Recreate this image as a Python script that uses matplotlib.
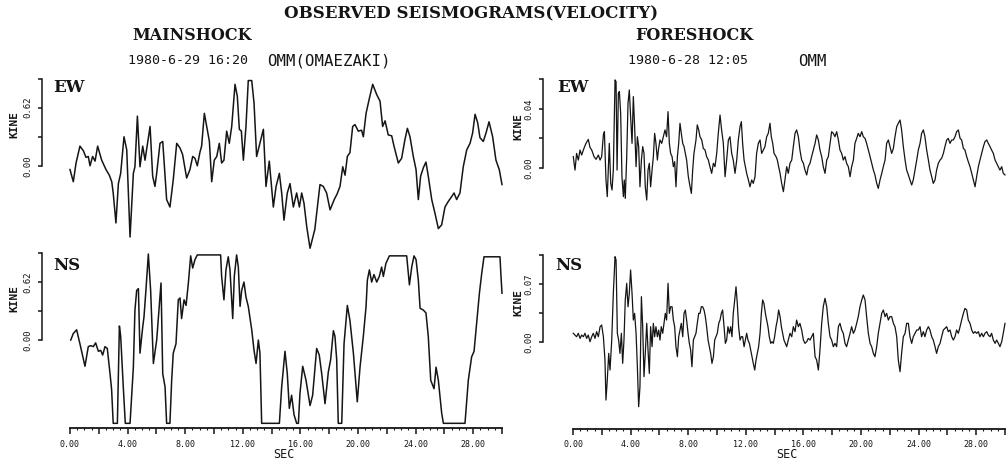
import numpy as np
import matplotlib
matplotlib.use("Agg")
import matplotlib.pyplot as plt

# ---------------- mainshock 1980-6-29 16:20, OMM (Omaezaki) ----------------
main_ew_t = [0.00, 0.23, 0.42, 0.69, 0.93, 1.11, 1.27, 1.39, 1.57, 1.74,
             1.92, 2.20, 2.50, 2.73, 2.90, 3.00, 3.19, 3.36, 3.52, 3.75,
             3.94, 4.17, 4.40, 4.51, 4.68, 4.86, 5.05, 5.21, 5.56, 5.74,
             5.90, 6.02, 6.25, 6.44, 6.71, 6.94, 7.17, 7.41, 7.64, 7.82,
             8.10, 8.33, 8.52, 8.68, 8.84, 9.03, 9.14, 9.33, 9.49, 9.68,
             9.84, 10.02, 10.19, 10.37, 10.53, 10.69, 10.88, 11.06, 11.23, 11.46,
             11.62, 11.76, 11.90, 12.04, 12.22, 12.38, 12.62, 12.78, 12.96, 13.19,
             13.43, 13.61, 13.84, 14.12, 14.31, 14.54, 14.70, 14.86, 15.09, 15.28,
             15.51, 15.74, 15.93, 16.09, 16.25, 16.44, 16.67, 17.00, 17.36, 17.59,
             17.82, 18.06, 18.35, 18.55, 18.75, 18.94, 19.10, 19.26, 19.44, 19.63,
             19.79, 20.02, 20.25, 20.37, 20.56, 20.79, 21.02, 21.30, 21.53, 21.71,
             21.88, 22.10, 22.34, 22.50, 22.80, 23.03, 23.26, 23.43, 23.61, 23.84,
             24.03, 24.19, 24.35, 24.54, 24.72, 24.88, 25.12, 25.35, 25.58, 25.81,
             26.04, 26.27, 26.50, 26.67, 26.85, 27.08, 27.31, 27.55, 27.78, 27.96,
             28.13, 28.31, 28.47, 28.70, 28.89, 29.10, 29.35, 29.58, 29.81, 30.00]
main_ew_v = [-0.04, -0.17, 0.03, 0.21, 0.16, 0.09, 0.10, 0.00, 0.10, 0.05,
             0.21, 0.06, -0.04, -0.10, -0.17, -0.29, -0.61, -0.19, -0.08, 0.31,
             0.17, -0.76, -0.08, -0.01, 0.53, -0.01, 0.21, 0.06, 0.42, -0.11,
             -0.22, -0.08, 0.24, 0.26, -0.36, -0.44, -0.15, 0.24, 0.19, 0.12,
             -0.13, -0.04, 0.10, 0.08, 0.00, 0.15, 0.21, 0.56, 0.42, 0.26,
             -0.17, 0.06, 0.10, 0.24, 0.03, 0.06, 0.37, 0.24, 0.42, 0.87,
             0.74, 0.39, 0.37, 0.06, 0.42, 0.91, 0.91, 0.67, 0.10, 0.24,
             0.39, -0.22, 0.05, -0.44, -0.22, -0.08, -0.29, -0.58, -0.29, -0.19,
             -0.44, -0.29, -0.44, -0.29, -0.40, -0.65, -0.88, -0.68, -0.20, -0.22,
             -0.29, -0.47, -0.36, -0.30, -0.22, -0.01, -0.10, 0.10, 0.14, 0.42,
             0.44, 0.37, 0.38, 0.31, 0.56, 0.72, 0.87, 0.76, 0.69, 0.42,
             0.48, 0.33, 0.32, 0.21, 0.03, 0.08, 0.28, 0.40, 0.31, 0.10,
             -0.04, -0.36, -0.11, -0.02, 0.04, -0.11, -0.36, -0.51, -0.67, -0.63,
             -0.44, -0.38, -0.33, -0.29, -0.36, -0.29, -0.01, 0.17, 0.24, 0.35,
             0.55, 0.46, 0.30, 0.26, 0.35, 0.47, 0.31, 0.06, -0.04, -0.20]

main_ns_t = [0.05, 0.23, 0.46, 0.69, 1.04, 1.27, 1.44, 1.62, 1.78, 1.97,
             2.13, 2.27, 2.43, 2.59, 2.78, 2.89, 3.00, 3.29, 3.43, 3.52,
             3.70, 3.84, 4.17, 4.28, 4.40, 4.51, 4.63, 4.75, 4.86, 5.05,
             5.14, 5.28, 5.44, 5.60, 5.79, 6.02, 6.20, 6.32, 6.44, 6.60,
             6.71, 6.94, 7.06, 7.17, 7.36, 7.52, 7.64, 7.75, 7.92, 8.06,
             8.22, 8.38, 8.52, 8.68, 8.84, 10.46, 10.53, 10.69, 10.83, 10.99,
             11.11, 11.30, 11.41, 11.57, 11.69, 11.81, 11.92, 12.08, 12.22, 12.38,
             12.62, 12.78, 12.92, 13.08, 13.19, 13.31, 14.54, 14.70, 14.93, 15.09,
             15.23, 15.39, 15.56, 15.74, 15.86, 15.97, 16.16, 16.39, 16.67, 16.85,
             17.13, 17.31, 17.48, 17.71, 17.94, 18.10, 18.29, 18.40, 18.52, 18.63,
             18.87, 19.03, 19.26, 19.44, 19.68, 19.95, 20.14, 20.37, 20.56, 20.65,
             20.79, 20.95, 21.11, 21.30, 21.48, 21.64, 21.76, 21.94, 22.18, 23.38,
             23.57, 23.73, 23.89, 24.03, 24.19, 24.31, 24.54, 24.72, 24.88, 25.05,
             25.28, 25.42, 25.58, 25.81, 25.93, 27.43, 27.66, 27.89, 28.06, 28.24,
             28.43, 28.59, 28.75, 29.86, 29.92, 30.00]
main_ns_v = [0.00, 0.07, 0.11, -0.04, -0.28, -0.07, -0.06, -0.07, -0.03, -0.12,
             -0.11, -0.16, -0.07, -0.09, -0.36, -0.53, -0.89, -0.89, 0.15, 0.04,
             -0.50, -0.89, -0.89, -0.61, -0.29, 0.32, 0.53, 0.55, -0.14, 0.14,
             0.25, 0.55, 0.92, 0.53, -0.25, 0.00, 0.36, 0.61, -0.36, -0.50,
             -0.89, -0.89, -0.43, -0.14, -0.04, 0.43, 0.45, 0.23, 0.43, 0.37,
             0.61, 0.90, 0.77, 0.86, 0.91, 0.91, 0.68, 0.43, 0.75, 0.89,
             0.75, 0.23, 0.68, 0.91, 0.78, 0.36, 0.53, 0.62, 0.46, 0.36,
             0.11, -0.11, -0.25, 0.00, -0.14, -0.89, -0.89, -0.50, -0.12, -0.36,
             -0.73, -0.59, -0.80, -0.89, -0.89, -0.57, -0.28, -0.43, -0.70, -0.59,
             -0.09, -0.16, -0.36, -0.68, -0.34, -0.21, 0.10, 0.04, -0.21, -0.89,
             -0.89, -0.04, 0.37, 0.21, -0.14, -0.66, -0.29, 0.04, 0.36, 0.64,
             0.75, 0.62, 0.70, 0.62, 0.68, 0.78, 0.68, 0.82, 0.90, 0.90,
             0.59, 0.78, 0.90, 0.86, 0.64, 0.34, 0.32, 0.29, 0.04, -0.43,
             -0.52, -0.29, -0.43, -0.78, -0.89, -0.89, -0.43, -0.18, -0.12, 0.18,
             0.50, 0.71, 0.89, 0.89, 0.71, 0.50]

# ---------------- foreshock 1980-6-28 12:05, OMM ----------------
fore_ew_head_t = [0.02, 0.14, 0.25, 0.37, 0.49, 0.60, 0.76, 0.90, 1.06, 1.18,
                  1.30, 1.46, 1.60, 1.76, 1.88, 1.99, 2.11, 2.18, 2.29, 2.38,
                  2.45, 2.52, 2.62, 2.71, 2.80, 2.92, 2.99, 3.06, 3.15, 3.22,
                  3.31, 3.40, 3.50, 3.56, 3.63, 3.73, 3.82, 3.91, 4.00, 4.10,
                  4.19, 4.28, 4.38, 4.47, 4.56, 4.65, 4.75, 4.84, 4.93, 5.02,
                  5.12, 5.21, 5.30, 5.39, 5.49, 5.58, 5.67, 5.76, 5.86, 5.93,
                  6.04, 6.16, 6.27, 6.39, 6.50, 6.60, 6.69, 6.78, 6.88, 6.97,
                  7.06, 7.15, 7.25, 7.34, 7.43, 7.52, 7.62, 7.71, 7.80, 7.89,
                  8.01, 8.13, 8.22, 8.31, 8.40, 8.54, 8.63, 8.73, 8.82, 8.94,
                  9.05, 9.17, 9.28, 9.40, 9.51, 9.63, 9.75, 9.86, 9.98, 10.09,
                  10.21, 10.32, 10.44, 10.56, 10.67, 10.79, 10.90, 11.02, 11.13, 11.25,
                  11.37, 11.48, 11.60, 11.69, 11.78, 11.88, 11.97, 12.06, 12.18, 12.29,
                  12.41, 12.52, 12.64, 12.75, 12.87, 12.99, 13.10, 13.22, 13.33, 13.45,
                  13.56, 13.68, 13.77, 13.87, 13.96, 14.10, 14.19, 14.28, 14.38, 14.49,
                  14.61]
fore_ew_head_v = [0.0077, -0.0014, 0.0099, 0.0054, 0.0122, 0.0088, 0.0133, 0.0167, 0.0194, 0.0140,
                  0.0122, 0.0077, 0.0059, 0.0088, 0.0054, 0.0077, 0.0224, 0.0246, -0.0081, -0.0194,
                  -0.0014, 0.0167, -0.0104, -0.0149, -0.0014, 0.0597, 0.0585, -0.0014, 0.0506, 0.0518,
                  0.0371, -0.0059, -0.0194, -0.0081, -0.0206, 0.0077, 0.0438, 0.0529, 0.0348, 0.0167,
                  0.0484, 0.0280, 0.0009, 0.0212, 0.0145, -0.0127, 0.0054, 0.0145, 0.0099, -0.0127,
                  -0.0217, -0.0014, 0.0032, -0.0127, -0.0014, 0.0077, 0.0235, 0.0167, 0.0054, 0.0122,
                  0.0190, 0.0167, 0.0212, 0.0258, 0.0212, 0.0382, 0.0167, 0.0099, 0.0077, 0.0009,
                  0.0043, -0.0127, 0.0077, 0.0167, 0.0303, 0.0235, 0.0167, 0.0145, 0.0099, 0.0054,
                  -0.0059, -0.0127, -0.0172, -0.0014, 0.0099, 0.0190, 0.0292, 0.0258, 0.0212, 0.0190,
                  0.0133, 0.0122, 0.0077, 0.0054, 0.0009, -0.0036, 0.0032, 0.0009, 0.0099, 0.0235,
                  0.0359, 0.0258, 0.0167, -0.0059, 0.0054, 0.0190, 0.0212, 0.0099, 0.0054, -0.0036,
                  0.0054, 0.0190, 0.0280, 0.0314, 0.0167, 0.0054, 0.0009, -0.0036, -0.0081, -0.0127,
                  -0.0081, -0.0104, -0.0059, 0.0099, 0.0167, 0.0190, 0.0099, 0.0122, 0.0145, 0.0212,
                  0.0235, 0.0303, 0.0212, 0.0167, 0.0099, 0.0077, 0.0054, 0.0009, -0.0036, -0.0104,
                  -0.0160]

fore_ns_head_t = [0.02, 0.14, 0.25, 0.37, 0.49, 0.60, 0.72, 0.83, 0.95, 1.06,
                  1.18, 1.30, 1.41, 1.53, 1.64, 1.76, 1.88, 1.99, 2.11, 2.22,
                  2.29, 2.38, 2.48, 2.57, 2.69, 2.80, 2.92, 2.99, 3.08, 3.17,
                  3.26, 3.36, 3.45, 3.54, 3.63, 3.73, 3.82, 3.91, 4.00, 4.10,
                  4.19, 4.28, 4.38, 4.47, 4.56, 4.65, 4.75, 4.84, 4.93, 5.02,
                  5.12, 5.21, 5.30, 5.39, 5.49, 5.58, 5.67, 5.76, 5.86, 5.95,
                  6.04, 6.13, 6.23, 6.32, 6.41, 6.50, 6.60, 6.69, 6.78, 6.88,
                  6.97, 7.06, 7.15, 7.25, 7.34, 7.43, 7.52, 7.62, 7.71, 7.80,
                  7.89, 7.99, 8.08, 8.17, 8.26, 8.36, 8.45, 8.54, 8.63, 8.73,
                  8.82, 8.91, 9.00, 9.10, 9.19, 9.28, 9.38, 9.47, 9.56, 9.65,
                  9.75, 9.84, 9.93, 10.02, 10.12, 10.21, 10.30, 10.39, 10.49, 10.58,
                  10.67, 10.76, 10.86, 10.95, 11.04, 11.13, 11.23, 11.32, 11.41, 11.50,
                  11.60, 11.69, 11.78, 11.88, 11.97, 12.06, 12.15, 12.25, 12.34, 12.43,
                  12.52, 12.62, 12.71, 12.80, 12.89, 12.99, 13.08, 13.17, 13.26, 13.36,
                  13.45, 13.54, 13.63, 13.73, 13.82, 13.91, 14.00, 14.10, 14.19, 14.28,
                  14.38, 14.47, 14.56, 14.65]
fore_ns_head_v = [0.0105, 0.0084, 0.0064, 0.0105, 0.0044, 0.0084, 0.0064, 0.0105, 0.0044, 0.0084,
                  0.0004, 0.0064, 0.0105, 0.0044, 0.0125, 0.0064, 0.0185, 0.0205, 0.0064, -0.0217,
                  -0.0700, -0.0458, -0.0137, -0.0338, 0.0024, 0.0587, 0.1029, 0.0989, 0.0105, 0.0024,
                  -0.0137, 0.0105, -0.0257, 0.0024, 0.0507, 0.0708, 0.0426, 0.0587, 0.0869, 0.0587,
                  0.0265, 0.0346, 0.0105, -0.0298, -0.0780, -0.0539, 0.0547, 0.0185, -0.0418, -0.0137,
                  0.0225, -0.0097, -0.0378, 0.0185, -0.0056, 0.0225, 0.0064, 0.0185, 0.0064, 0.0145,
                  0.0024, 0.0185, 0.0105, 0.0225, 0.0346, 0.0265, 0.0708, 0.0346, 0.0426, 0.0426,
                  0.0265, 0.0185, -0.0056, -0.0177, 0.0064, 0.0145, 0.0225, 0.0064, 0.0346, 0.0386,
                  0.0265, 0.0105, -0.0016, -0.0097, -0.0298, 0.0024, 0.0064, 0.0105, 0.0225, 0.0346,
                  0.0346, 0.0426, 0.0426, 0.0386, 0.0306, 0.0185, 0.0024, -0.0056, -0.0137, -0.0257,
                  -0.0177, 0.0024, 0.0064, 0.0105, 0.0225, 0.0265, 0.0346, 0.0386, 0.0185, -0.0016,
                  0.0024, 0.0185, 0.0105, 0.0185, 0.0064, 0.0346, 0.0507, 0.0667, 0.0466, 0.0185,
                  0.0024, 0.0064, 0.0064, -0.0056, 0.0024, 0.0105, 0.0024, -0.0016, -0.0097, -0.0177,
                  -0.0257, -0.0338, -0.0217, -0.0137, -0.0056, 0.0105, 0.0346, 0.0507, 0.0466, 0.0346,
                  0.0265, 0.0185, 0.0064, -0.0016, 0.0004, -0.0016, 0.0064, 0.0185, 0.0265, 0.0386,
                  0.0306, 0.0185, 0.0105, 0.0024]

# later part of both foreshock components shares one sampling
fore_tail_t = [14.84, 14.95, 15.07, 15.19, 15.30, 15.42, 15.53, 15.65, 15.76, 15.88,
               16.00, 16.11, 16.23, 16.34, 16.46, 16.57, 16.69, 16.81, 16.92, 17.04,
               17.15, 17.27, 17.38, 17.50, 17.62, 17.73, 17.85, 17.96, 18.08, 18.19,
               18.31, 18.43, 18.54, 18.66, 18.77, 18.89, 19.00, 19.12, 19.24, 19.35,
               19.47, 19.58, 19.70, 19.81, 19.93, 20.05, 20.16, 20.28, 20.39, 20.51,
               20.63, 20.74, 20.86, 20.97, 21.09, 21.20, 21.32, 21.44, 21.55, 21.67,
               21.78, 21.90, 22.01, 22.13, 22.25, 22.36, 22.48, 22.59, 22.71, 22.82,
               22.94, 23.06, 23.17, 23.29, 23.40, 23.52, 23.63, 23.75, 23.87, 23.98,
               24.10, 24.21, 24.33, 24.44, 24.56, 24.68, 24.79, 24.91, 25.02, 25.14,
               25.25, 25.37, 25.49, 25.60, 25.72, 25.83, 25.95, 26.06, 26.18, 26.30,
               26.41, 26.53, 26.64, 26.76, 26.88, 26.99, 27.11, 27.22, 27.34, 27.45,
               27.57, 27.69, 27.80, 27.92, 28.03, 28.15, 28.26, 28.38, 28.50, 28.61,
               28.73, 28.84, 28.96, 29.07, 29.19, 29.31, 29.42, 29.54, 29.65, 29.77,
               29.88, 30.00]
fore_ew_tail_v = [0.0009, -0.0036, 0.0032, 0.0054, 0.0145, 0.0235, 0.0258, 0.0212, 0.0122, 0.0054,
                  0.0032, -0.0014, -0.0047, 0.0009, 0.0032, 0.0077, 0.0122, 0.0167, 0.0224, 0.0190,
                  0.0122, 0.0077, 0.0009, -0.0036, 0.0054, 0.0077, 0.0167, 0.0246, 0.0235, 0.0212,
                  0.0246, 0.0190, 0.0122, 0.0099, 0.0054, 0.0077, 0.0032, 0.0009, -0.0059, 0.0009,
                  0.0054, 0.0167, 0.0201, 0.0235, 0.0212, 0.0246, 0.0212, 0.0201, 0.0167, 0.0122,
                  0.0077, 0.0032, -0.0014, -0.0047, -0.0104, -0.0138, -0.0081, -0.0036, 0.0009, 0.0054,
                  0.0167, 0.0190, 0.0145, 0.0099, 0.0133, 0.0212, 0.0280, 0.0303, 0.0325, 0.0258,
                  0.0145, 0.0054, -0.0014, -0.0047, -0.0081, -0.0115, -0.0081, -0.0014, 0.0054, 0.0122,
                  0.0167, 0.0235, 0.0258, 0.0212, 0.0122, 0.0054, -0.0014, -0.0059, -0.0104, -0.0081,
                  -0.0014, 0.0032, 0.0054, 0.0066, 0.0099, 0.0145, 0.0190, 0.0201, 0.0167, 0.0190,
                  0.0190, 0.0212, 0.0246, 0.0258, 0.0201, 0.0190, 0.0133, 0.0122, 0.0077, 0.0043,
                  0.0009, -0.0036, -0.0081, -0.0127, -0.0059, 0.0009, 0.0054, 0.0099, 0.0145, 0.0179,
                  0.0190, 0.0167, 0.0145, 0.0122, 0.0099, 0.0054, 0.0032, 0.0009, -0.0014, 0.0009,
                  -0.0036, -0.0047]
fore_ns_tail_v = [-0.0056, 0.0024, 0.0105, 0.0064, 0.0185, 0.0125, 0.0265, 0.0185, 0.0225, 0.0145,
                  0.0024, -0.0016, 0.0004, 0.0044, 0.0024, 0.0064, 0.0105, -0.0177, -0.0217, -0.0338,
                  -0.0097, 0.0225, 0.0426, 0.0527, 0.0426, 0.0225, 0.0064, 0.0024, -0.0056, -0.0016,
                  -0.0056, 0.0185, 0.0225, 0.0145, 0.0105, -0.0016, -0.0056, 0.0024, 0.0105, 0.0185,
                  0.0105, 0.0145, 0.0225, 0.0306, 0.0426, 0.0507, 0.0567, 0.0507, 0.0306, 0.0105,
                  -0.0016, -0.0056, -0.0137, -0.0177, -0.0056, 0.0105, 0.0225, 0.0346, 0.0386, 0.0306,
                  0.0346, 0.0265, 0.0306, 0.0306, 0.0225, 0.0185, 0.0064, -0.0217, -0.0358, -0.0137,
                  0.0064, 0.0105, 0.0225, 0.0225, 0.0064, -0.0016, 0.0064, 0.0105, 0.0145, 0.0145,
                  0.0185, 0.0064, 0.0125, 0.0064, 0.0145, 0.0185, 0.0145, 0.0064, 0.0024, -0.0056,
                  -0.0137, -0.0056, -0.0016, 0.0064, 0.0145, 0.0165, 0.0185, 0.0125, 0.0145, 0.0064,
                  0.0024, 0.0064, 0.0145, 0.0105, 0.0185, 0.0265, 0.0346, 0.0406, 0.0386, 0.0265,
                  0.0225, 0.0145, 0.0105, 0.0125, 0.0105, 0.0125, 0.0064, 0.0105, 0.0064, 0.0105,
                  0.0125, 0.0084, 0.0064, 0.0105, 0.0024, -0.0016, 0.0024, -0.0016, -0.0056, 0.0004,
                  0.0105, 0.0225]

# amplitude scale ticks (KINE) and time ticks (SEC)
main_ticks = [0.0, 0.31, 0.62, 0.93]
main_ticklabels = ["0.00", "", "0.62", ""]
fore_ew_ticks = [0.0, 0.02, 0.04, 0.06]
fore_ew_ticklabels = ["0.00", "", "0.04", ""]
fore_ns_ticks = [0.0, 0.035, 0.07, 0.105]
fore_ns_ticklabels = ["0.00", "", "0.07", ""]
sec_ticks = list(range(0, 31, 2))
sec_ticklabels = [f"{s:.2f}" if s % 4 == 0 else "" for s in sec_ticks]

INK = "#151515"
MONO = "DejaVu Sans Mono"
SERIF_BOLD = dict(family="DejaVu Serif", weight="bold")

W, H = 1007, 467
fig = plt.figure(figsize=(W / 100, H / 100), dpi=100)
fig.patch.set_facecolor("white")


def px(x, y):
    return x / W, 1 - y / H


def box(x0, x1, ytop, ybot):
    return [x0 / W, 1 - ybot / H, (x1 - x0) / W, (ybot - ytop) / H]


def panel(rect, t, v, ylim, ticks, ticklabels, offset_px, lw, time_axis):
    ax = fig.add_axes(rect)
    ax.patch.set_visible(False)
    ax.plot(t, v, color=INK, lw=lw, solid_joinstyle="round", clip_on=False)
    ax.set_xlim(0, 30)
    ax.set_ylim(*ylim)
    for s in ("top", "right"):
        ax.spines[s].set_visible(False)
    sp = ax.spines["left"]
    sp.set_position(("outward", offset_px * 0.72))
    sp.set_bounds(ticks[0], ticks[-1])
    sp.set_linewidth(1.1)
    sp.set_color(INK)
    ax.set_yticks(ticks)
    ax.set_yticklabels(ticklabels, rotation=90, va="center", family=MONO,
                       fontsize=6.5, color=INK)
    ax.tick_params(axis="y", direction="out", length=3.2, width=1.1,
                   pad=3.5, color=INK)
    if time_axis:
        bt = ax.spines["bottom"]
        bt.set_bounds(0, 30)
        bt.set_linewidth(1.3)
        bt.set_color(INK)
        ax.set_xticks(sec_ticks)
        ax.set_xticklabels(sec_ticklabels, family=MONO, fontsize=6.0, color=INK)
        ax.set_xticks(np.arange(0, 30.01, 0.5), minor=True)
        ax.tick_params(axis="x", which="major", direction="out", length=4,
                       width=1.1, pad=4.5, color=INK)
        ax.tick_params(axis="x", which="minor", direction="out", length=1.5,
                       width=0.8, color=INK)
        ax.annotate("SEC", xy=(15, 0), xycoords=("data", "axes fraction"),
                    xytext=(-2, -26), textcoords="offset pixels", ha="center",
                    va="center", family=MONO, fontsize=8.5, color=INK)
    else:
        ax.spines["bottom"].set_visible(False)
        ax.set_xticks([])
    return ax


main_ew_ax = panel(box(70, 502, 74, 252), main_ew_t, main_ew_v, (-0.92, 0.98),
                   main_ticks, main_ticklabels, 28, 1.1, False)
main_ns_ax = panel(box(70, 502, 248, 428), main_ns_t, main_ns_v, (-0.94, 0.984),
                   main_ticks, main_ticklabels, 28, 1.1, True)
fore_ew_ax = panel(box(573, 1005, 74, 252), fore_ew_head_t + fore_tail_t,
                   fore_ew_head_v + fore_ew_tail_v, (-0.0569, 0.0637),
                   fore_ew_ticks, fore_ew_ticklabels, 30, 0.9, False)
fore_ns_ax = panel(box(573, 1005, 248, 428.5), fore_ns_head_t + fore_tail_t,
                   fore_ns_head_v + fore_ns_tail_v, (-0.1043, 0.1134),
                   fore_ns_ticks, fore_ns_ticklabels, 30, 0.9, True)

# "KINE" unit labels beside each amplitude scale
for (x, y) in [(14, 124), (14, 298), (518, 126), (518, 302)]:
    fig.text(*px(x, y), "KINE", rotation=90, ha="center", va="center",
             family=MONO, weight="bold", fontsize=8, color=INK)

# component names
for (x, y, name) in [(53, 87, "EW"), (53, 265, "NS"), (557, 87, "EW"), (555, 266, "NS")]:
    fig.text(*px(x, y), name, ha="left", va="center", fontsize=12,
             color=INK, **SERIF_BOLD)

# headings
fig.text(*px(471, 14), "OBSERVED SEISMOGRAMS(VELOCITY)", ha="center",
         va="center", fontsize=12, color=INK, **SERIF_BOLD)
fig.text(*px(192, 36), "MAINSHOCK", ha="center", va="center", fontsize=11.5,
         color=INK, **SERIF_BOLD)
fig.text(*px(694, 36), "FORESHOCK", ha="center", va="center", fontsize=11.5,
         color=INK, **SERIF_BOLD)
fig.text(*px(128, 61), "1980-6-29 16:20", ha="left", va="center",
         family=MONO, fontsize=9.5, color=INK)
fig.text(*px(267, 61), "OMM(OMAEZAKI)", ha="left", va="center",
         family=MONO, fontsize=11.3, color=INK)
fig.text(*px(628, 61), "1980-6-28 12:05", ha="left", va="center",
         family=MONO, fontsize=9.5, color=INK)
fig.text(*px(798, 61), "OMM", ha="left", va="center",
         family=MONO, fontsize=11.3, color=INK)

fig.savefig("out.png", dpi=100, facecolor="white")
